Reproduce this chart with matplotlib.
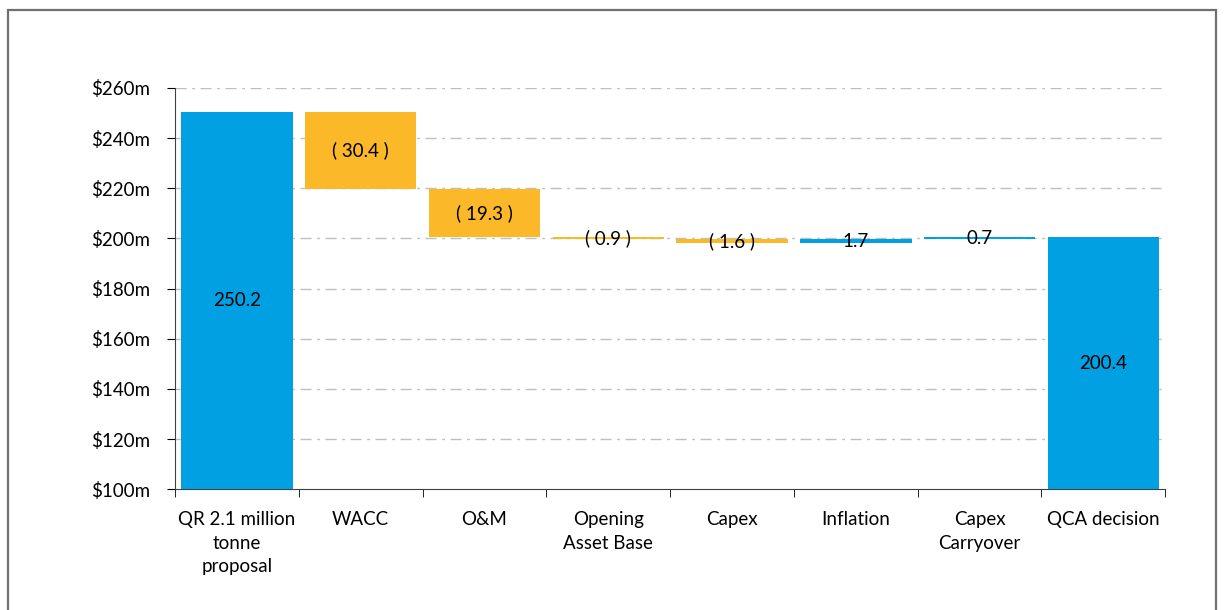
import numpy as np
from matplotlib import pyplot as plt
from matplotlib.patches import Rectangle

categories = ['QR 2.1 million\ntonne\nproposal', 'WACC', 'O&M', 'Opening\nAsset Base',
              'Capex', 'Inflation', 'Capex\nCarryover', 'QCA decision']
start = 250.2
changes = [-30.4, -19.3, -0.9, -1.6, 1.7, 0.7]
end = 200.4

blue = '#00A0E3'
orange = '#FBB829'

plt.rcParams['font.family'] = ['Lato', 'DejaVu Sans']
fs = 13.5

fig = plt.figure(figsize=(12.24, 6.1), dpi=100)
ax = fig.add_axes([0.143, 0.198, 0.809, 0.658])

fig.patches.append(Rectangle((8 / 1224, -0.1), 1208 / 1224, 1.1 - 10 / 610,
                             transform=fig.transFigure, fill=False,
                             edgecolor='#707070', lw=1.6))

x = np.arange(len(categories))
w = 0.9

ax.bar(x[0], start, width=w, color=blue, zorder=3)
ax.text(x[0], (100 + start) / 2, f'{start:.1f}', ha='center', va='center', fontsize=fs)

level = start
for i, d in enumerate(changes, start=1):
    new = level + d
    lo = min(level, new)
    col = orange if d < 0 else blue
    ax.bar(x[i], abs(d), bottom=lo, width=w, color=col, zorder=3)
    lab = f'( {abs(d):.1f} )' if d < 0 else f'{d:.1f}'
    ax.text(x[i], lo + abs(d) / 2, lab,
            ha='center', va='center', fontsize=fs, zorder=4)
    level = new

ax.bar(x[-1], end, width=w, color=blue, zorder=3)
ax.text(x[-1], (100 + end) / 2, f'{end:.1f}', ha='center', va='center', fontsize=fs)

ax.set_ylim(100, 260)
ax.set_xlim(-0.5, len(categories) - 0.5)
yt = np.arange(100, 261, 20)
ax.set_yticks(yt)
ax.set_yticklabels([f'${v}m' for v in yt], fontsize=fs)
ax.set_xticks(x)
ax.set_xticklabels(categories, fontsize=fs, va='top', linespacing=1.45)
ax.set_xticks(np.arange(-0.5, len(categories)), minor=True)
ax.tick_params(axis='x', which='major', length=0, pad=16)
ax.tick_params(axis='x', which='minor', length=6, direction='out')
ax.tick_params(axis='y', length=6, direction='out', pad=12)

for v in yt[1:]:
    ax.axhline(v, color='#BFBFBF', lw=1, ls=(0, (8, 4, 2, 4)), zorder=1)

for s in ['top', 'right']:
    ax.spines[s].set_visible(False)
ax.spines['left'].set_color('#404040')
ax.spines['bottom'].set_color('#404040')

fig.savefig('out.png', dpi=100)
